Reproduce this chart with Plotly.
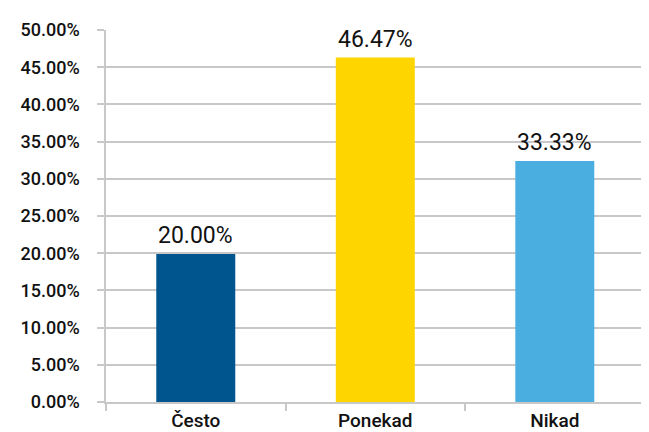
import plotly.graph_objects as go

# kategorije i vrijednosti (visina stupca ocitana sa slike, natpis kao na slici)
CATEGORIES = ["Često", "Ponekad", "Nikad"]
BAR_VALUES = [19.9, 46.3, 32.4]
BAR_LABELS = ["20.00%", "46.47%", "33.33%"]
BAR_COLORS = ["#00558F", "#FFD500", "#4BAEE0"]

Y_TICKS = [0, 5, 10, 15, 20, 25, 30, 35, 40, 45, 50]
Y_TICK_TEXT = [f"{v:.2f}%" for v in Y_TICKS]

GRID = "#C8C8C8"
FONT = "Roboto"

fig = go.Figure()

fig.add_trace(
    go.Bar(
        x=CATEGORIES,
        y=BAR_VALUES,
        marker=dict(color=BAR_COLORS, line=dict(width=0)),
        width=0.44,
        hoverinfo="skip",
        showlegend=False,
    )
)

# data labels above bars
for cat, val, lab in zip(CATEGORIES, BAR_VALUES, BAR_LABELS):
    fig.add_annotation(
        x=cat,
        y=val,
        text=lab,
        showarrow=False,
        yanchor="bottom",
        yshift=3,
        font=dict(family=FONT, size=23, color="#111111"),
    )

fig.update_layout(
    width=649,
    height=432,
    margin=dict(l=98, r=4, t=22, b=38),
    paper_bgcolor="white",
    plot_bgcolor="white",
)

fig.update_xaxes(
    automargin=False,
    range=[-0.5, 2.547],
    showgrid=False,
    showline=True,
    linecolor=GRID,
    linewidth=1.5,
    ticks="outside",
    tickson="boundaries",
    ticklen=7,
    tickcolor=GRID,
    tickwidth=1.5,
    tickfont=dict(family=FONT, size=19, color="#111111", weight=500),
    ticklabelstandoff=0,
)

fig.update_yaxes(
    automargin=False,
    range=[0, 50],
    tickvals=Y_TICKS,
    ticktext=Y_TICK_TEXT,
    showgrid=True,
    gridcolor=GRID,
    gridwidth=1.5,
    zeroline=False,
    showline=True,
    linecolor=GRID,
    linewidth=1.5,
    ticks="outside",
    ticklen=7,
    tickcolor=GRID,
    tickwidth=1.5,
    tickfont=dict(family=FONT, size=18, color="#111111", weight=500),
    ticklabelstandoff=14,
)

fig.write_html("out.html")
